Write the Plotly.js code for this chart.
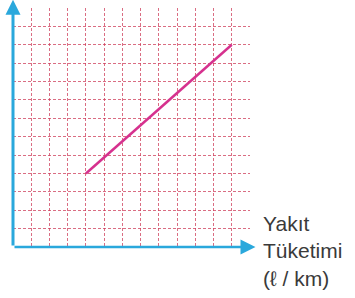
<!DOCTYPE html>
<html><head><meta charset="utf-8">
<script src="https://cdn.plot.ly/plotly-3.0.1.min.js"></script>
<style>html,body{margin:0;padding:0;background:#fff}#c{width:355px;height:298px}</style>
</head><body><div id="c"></div>
<script>
const xValues = [4, 12];
const yValues = [4, 11];
const gridMax = 13;
const xLabel = ["Yakıt", "Tüketimi", "(ℓ / km)"];

const gridColor = 'rgba(205,60,90,0.75)';
const axisColor = '#2aa8dc';
const trace = {
  x: xValues, y: yValues, mode: 'lines', type: 'scatter',
  line: {color: '#d6318e', width: 2.5}, hoverinfo: 'skip'
};
const layout = {
  width: 355, height: 298,
  margin: {l: 13, r: 105, t: 8, b: 51},
  paper_bgcolor: '#fff', plot_bgcolor: '#fff',
  showlegend: false,
  xaxis: {range: [0, gridMax], dtick: 1, tick0: 0, showticklabels: false, ticks: '',
    showgrid: true, gridcolor: gridColor, gridwidth: 1, griddash: '3px,2px',
    zeroline: false, showline: false, fixedrange: true},
  yaxis: {range: [0, gridMax], dtick: 1, tick0: 0, showticklabels: false, ticks: '',
    showgrid: true, gridcolor: gridColor, gridwidth: 1, griddash: '3px,2px',
    zeroline: false, showline: false, fixedrange: true},
  annotations: [
    {x: 0, y: 13.45, xref: 'x', yref: 'y', ax: 0, ay: 0, axref: 'x', ayref: 'y',
     showarrow: true, arrowhead: 2, arrowsize: 1, arrowwidth: 3, arrowcolor: axisColor, text: ''},
    {x: 13.3, y: 0, xref: 'x', yref: 'y', ax: 0, ay: 0, axref: 'x', ayref: 'y',
     showarrow: true, arrowhead: 2, arrowsize: 1.2, arrowwidth: 2.5, arrowcolor: axisColor, text: ''},
    {x: 1, y: 0, xref: 'paper', yref: 'paper', xanchor: 'left', yanchor: 'middle',
     xshift: 11, yshift: -4, align: 'left', showarrow: false,
     text: xLabel.join('<br>'),
     font: {family: 'Liberation Sans, Arial, sans-serif', size: 21, color: '#3a3a3a'}}
  ]
};
Plotly.newPlot('c', [trace], layout, {staticPlot: true, displayModeBar: false});
</script></body></html>
